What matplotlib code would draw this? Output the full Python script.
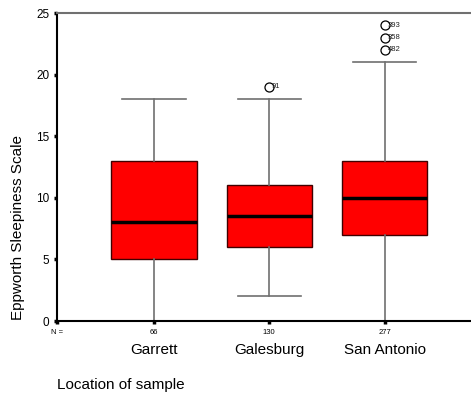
import matplotlib
matplotlib.use("Agg")
import matplotlib.pyplot as plt

plt.rcParams['font.family'] = ['Liberation Sans', 'DejaVu Sans']

categories = ["Garrett", "Galesburg", "San Antonio"]
n_values = ["66", "130", "277"]
q1 = [5, 6, 7]
medians = [8, 8.5, 10]
q3 = [13, 11, 13]
whis_lo = [0, 2, 0]
whis_hi = [18, 18, 21]
fliers = [[], [19], [24, 23, 22]]
flier_labels = [[], ["91"], ["393", "358", "482"]]
y_ticks = [0, 5, 10, 15, 20, 25]

fig = plt.figure(figsize=(4.71, 4.0), dpi=100)
ax = fig.add_axes([57/471, 79/400, 413/471, 308/400])

stats = []
for i in range(len(categories)):
    stats.append(dict(med=medians[i], q1=q1[i], q3=q3[i],
                      whislo=whis_lo[i], whishi=whis_hi[i], fliers=fliers[i]))

positions = [1, 2, 3]
ax.bxp(stats, positions=positions, widths=0.74, patch_artist=True,
       showfliers=True,
       boxprops=dict(facecolor='#ff0000', edgecolor='#400000', linewidth=1.0),
       medianprops=dict(color='black', linewidth=2.5),
       whiskerprops=dict(color='#707070', linewidth=1.2),
       capprops=dict(color='#707070', linewidth=1.2),
       capwidths=0.55,
       flierprops=dict(marker='o', markerfacecolor='white', markeredgecolor='black',
                       markersize=6.5, markeredgewidth=0.9, linestyle='none'))

for i, (vals, labs) in enumerate(zip(fliers, flier_labels)):
    for v, lab in zip(vals, labs):
        ax.annotate(lab, (positions[i], v), xytext=(2, 0), textcoords='offset points',
                    fontsize=5.5, va='center', ha='left', color='#222222')

ax.set_xlim(0.16, 3.74)
ax.set_ylim(0, 25)

ax.set_yticks(y_ticks)
ax.set_yticklabels([str(t) for t in y_ticks], fontsize=8.5)
ax.set_xticks([0.16] + positions)
ax.set_xticklabels(["N ="] + n_values, fontsize=5.5)

ax.tick_params(axis='both', direction='out', length=2.5, width=2.5, color='black')
ax.tick_params(axis='y', pad=3)
ax.tick_params(axis='x', pad=3)

for i, c in enumerate(categories):
    ax.text(positions[i], -0.095, c, transform=ax.get_xaxis_transform(),
            ha='center', va='center', fontsize=11)

ax.spines['right'].set_visible(False)
ax.spines['top'].set_color('#707070')
ax.spines['top'].set_linewidth(1.5)
ax.spines['left'].set_linewidth(1.5)
ax.spines['bottom'].set_linewidth(1.5)
ax.spines['left'].set_color('black')
ax.spines['bottom'].set_color('black')

fig.text(18/471, 1 - 227/400, "Eppworth Sleepiness Scale", rotation=90,
         ha='center', va='center', fontsize=11)
fig.text(57/471, 1 - 385/400, "Location of sample", ha='left', va='center', fontsize=11)

fig.savefig("out.png", dpi=100)
